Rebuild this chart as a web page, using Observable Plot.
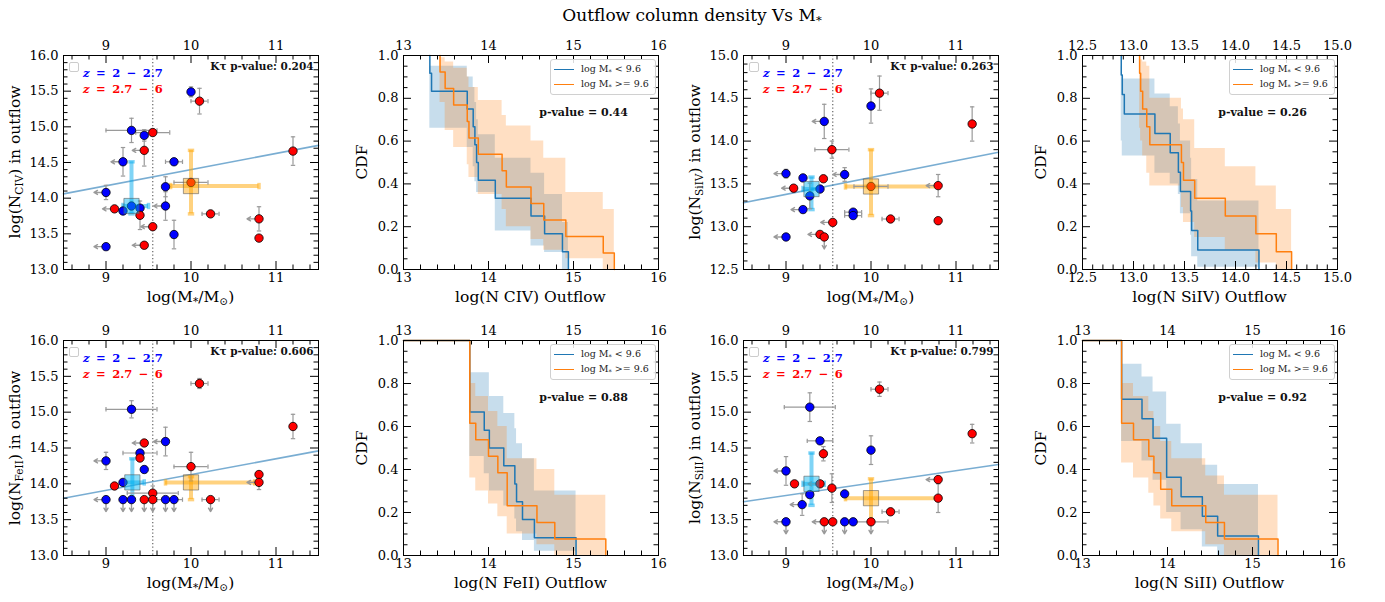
<!DOCTYPE html>
<html><head><meta charset="utf-8">
<script src="https://cdn.jsdelivr.net/npm/d3@7"></script>
<script src="https://cdn.jsdelivr.net/npm/@observablehq/plot@0.6"></script>
<style>
body{margin:0;background:#fff;font-family:"DejaVu Serif",serif;}
#fig{position:relative;width:1385px;height:602px;overflow:hidden;background:#fff;}
.abs{position:absolute;}
.lbl{position:absolute;white-space:nowrap;font-size:15.5px;color:#000;transform:translate(-50%,-50%);line-height:1;}
.rot{transform:translate(-50%,-50%) rotate(-90deg);}
sub{font-size:68%;vertical-align:-0.3em;line-height:0;}
.zbox{position:absolute;width:8px;height:8px;border:1px solid #ccc;border-radius:2px;background:#fff;}
.ztxt{position:absolute;font-size:11.5px;font-weight:bold;white-space:nowrap;transform:translateY(-50%);line-height:1;word-spacing:2.5px;}
.leg{position:absolute;border:1px solid #d0d0d0;border-radius:3px;background:rgba(255,255,255,0.85);}
.legrow{position:absolute;left:0;font-size:9.5px;white-space:nowrap;color:#222;line-height:1;}
.legline{position:absolute;height:0;width:20px;border-top:1.6px solid;}
#title{position:absolute;left:692px;top:15px;transform:translate(-50%,-50%);font-size:17px;white-space:nowrap;}
</style>
</head><body>
<div id="fig"><div id="title">Outflow column density Vs M<sub>*</sub></div></div>
<script>
// ---------- DATA ----------
// scatter rows: [logM*, logN, xerr, yerr, x-upper-limit (left arrow), y-upper-limit (down arrow)]
const civBlue = [
  [10.0,15.49,0,0.07,0,0],[9.3,14.95,0.3,0.17,0,0],[9.45,14.88,0,0.08,0,0],[9.2,14.51,0,0.2,1,0],
  [9.8,14.51,0.1,0,0,0],[9.0,14.08,0,0.1,1,0],[9.7,14.16,0,0.14,0,0],[9.7,13.89,0,0.2,1,0],
  [9.3,13.89,0,0,0,0],[9.2,13.82,0,0,0,0],[9.4,13.86,0,0,0,0],[9.8,13.49,0,0.2,0,0],[9.0,13.32,0,0,1,0]];
const civRed = [
  [10.1,15.36,0.1,0.18,0,0],[9.55,14.92,0.2,0,0,0],[9.45,14.67,0,0.22,1,0],[11.2,14.66,0,0.2,0,0],
  [10.0,14.22,0.2,0,0,0],[9.1,13.85,0,0,1,0],[9.4,13.76,0,0.2,0,0],[10.23,13.78,0.1,0,0,0],
  [9.55,13.60,0,0,1,0],[10.8,13.71,0,0.17,1,0],[10.8,13.44,0,0,0,0],[9.45,13.34,0,0,1,0]];
// medians: [x, y, xlo, xhi, ylo, yhi]
const civMedLow = [9.3,13.89,9.2,9.5,13.78,14.51];
const civMedHigh = [10.0,14.17,9.76,10.8,13.78,14.67];
const civFitX = [8.5,11.5], civFitY = [14.06,14.74];
const civKtau = "Kτ p-value: 0.204";

const siivBlue = [
  [10.0,14.41,0,0.2,0,0],[9.45,14.23,0,0.2,1,0],[9.0,13.62,0,0.05,1,0],[9.2,13.57,0,0,0,0],
  [9.69,13.61,0,0.08,1,0],[9.4,13.44,0,0,0,0],[9.28,13.36,0,0.15,0,0],[9.2,13.20,0,0,1,0],
  [9.79,13.17,0.1,0,0,0],[9.79,13.13,0.1,0,0,0],[9.0,12.88,0,0,1,0]];
const siivRed = [
  [10.1,14.56,0.1,0.2,0,0],[11.19,14.20,0,0.2,0,0],[9.54,13.90,0.2,0.1,0,0],[9.44,13.56,0,0,0,0],
  [9.09,13.45,0,0,1,0],[10.0,13.47,0.2,0,0,0],[10.79,13.48,0,0.13,1,0],[9.55,13.05,0,0,1,0],
  [10.23,13.09,0.1,0,0,0],[10.79,13.07,0,0,0,0],[9.4,12.91,0,0,1,0],[9.45,12.88,0,0,0,1]];
const siivMedLow = [9.3,13.44,9.2,9.4,13.2,13.58];
const siivMedHigh = [10.0,13.47,9.7,10.8,13.13,13.9];
const siivFitX = [8.5,11.5], siivFitY = [13.28,13.87];
const siivKtau = "Kτ p-value: 0.263";

const feiiBlue = [
  [9.3,15.04,0.3,0.12,0,0],[9.7,14.59,0,0.2,1,0],[9.0,14.32,0,0.12,1,0],[9.4,14.43,0.2,0,0,0],
  [9.45,14.20,0,0,0,0],[9.2,14.02,0,0,0,0],[9.0,13.78,0,0,1,1],[9.2,13.78,0,0,0,1],
  [9.3,13.78,0,0,0,1],[9.7,13.78,0,0,1,1],[9.8,13.78,0.1,0,0,1]];
const feiiRed = [
  [10.1,15.40,0.1,0.07,0,0],[11.2,14.80,0,0.17,0,0],[9.45,14.57,0,0,1,0],[9.4,14.36,0,0,0,0],
  [10.0,14.24,0.2,0.2,0,0],[10.8,14.13,0,0,0,0],[10.8,14.02,0,0.1,1,0],[9.1,13.97,0,0,0,0],
  [9.55,13.87,0.3,0.1,0,0],[9.45,13.78,0,0,0,1],[9.55,13.78,0,0,0,1],[10.23,13.78,0.1,0,0,1]];
const feiiMedLow = [9.31,14.02,9.2,9.45,13.78,14.35];
const feiiMedHigh = [10.0,14.02,9.7,10.75,13.78,14.1];
const feiiFitX = [8.5,11.5], feiiFitY = [13.80,14.46];
const feiiKtau = "Kτ p-value: 0.606";

const siiiBlue = [
  [9.28,15.07,0.3,0.2,0,0],[9.4,14.60,0.15,0,0,0],[10.0,14.47,0,0.2,0,0],[9.0,14.18,0,0.2,1,0],
  [9.28,13.85,0,0,0,0],[9.69,13.86,0,0,0,0],[9.19,13.71,0,0.15,1,0],[9.0,13.47,0,0,1,1],
  [9.69,13.47,0,0,0,1],[9.79,13.47,0,0,0,0]];
const siiiRed = [
  [10.1,15.32,0.1,0.1,0,0],[11.19,14.70,0,0.13,0,0],[9.44,14.42,0,0.1,0,0],[9.1,14.0,0,0,0,0],
  [9.4,14.0,0,0,1,0],[9.54,13.94,0,0.2,0,0],[10.79,14.06,0,0,1,0],[10.79,13.80,0,0.2,0,0],
  [10.23,13.61,0.1,0,0,0],[9.45,13.47,0,0,1,1],[9.55,13.47,0,0,0,0],[10.0,13.47,0.2,0,0,1]];
const siiiMedLow = [9.3,14.0,9.2,9.45,13.7,14.43];
const siiiMedHigh = [10.0,13.8,9.7,10.8,13.47,14.07];
const siiiFitX = [8.5,11.5], siiiFitY = [13.75,14.27];
const siiiKtau = "Kτ p-value: 0.799";

// CDF (survival) steps: x of each drop, value after the drop, band lo/hi for the segment that starts there
const civLowStart = 13.31;
const civLowX  = [13.31,13.33,13.75,13.82,13.84,13.86,13.88,14.08,14.50,14.66,14.87,14.94];
const civLowS  = [0.917,0.833,0.75,0.667,0.583,0.5,0.417,0.333,0.25,0.167,0.083,0.0];
const civLowLo = [0.66,0.66,0.57,0.48,0.41,0.36,0.36,0.18,0.11,0.08,0.0];
const civLowHi = [0.95,0.95,0.90,0.85,0.78,0.70,0.63,0.52,0.45,0.35,0.22];
const civHighStart = 13.43;
const civHighX  = [13.43,13.49,13.59,13.75,13.77,13.88,14.16,14.21,14.50,14.65,14.91,15.35,15.48];
const civHighS  = [0.923,0.846,0.769,0.692,0.615,0.538,0.462,0.385,0.308,0.231,0.154,0.077,0.0];
const civHighLo = [0.78,0.65,0.57,0.49,0.43,0.35,0.28,0.20,0.14,0.09,0.05,0.0];
const civHighHi = [0.99,0.97,0.94,0.90,0.85,0.79,0.72,0.67,0.60,0.52,0.36,0.28];
const civP = "p-value = 0.44";

const siivLowStart = 12.88;
const siivLowX  = [12.88,12.89,12.91,13.21,13.36,13.44,13.46,13.56,13.57,13.63,14.23];
const siivLowS  = [0.909,0.818,0.727,0.636,0.545,0.455,0.364,0.273,0.182,0.091,0.0];
const siivLowLo = [0.60,0.53,0.53,0.45,0.40,0.35,0.26,0.16,0.06,0.01];
const siivLowHi = [0.95,0.89,0.89,0.82,0.76,0.68,0.60,0.52,0.42,0.32];
const siivHighStart = 13.06;
const siivHighX  = [13.06,13.07,13.09,13.13,13.16,13.47,13.49,13.60,13.90,14.20,14.40,14.55];
const siivHighS  = [0.917,0.833,0.75,0.667,0.583,0.5,0.417,0.333,0.25,0.167,0.083,0.0];
const siivHighLo = [0.66,0.60,0.53,0.45,0.39,0.29,0.22,0.15,0.09,0.03,0.0];
const siivHighHi = [0.98,0.98,0.97,0.95,0.80,0.75,0.70,0.565,0.48,0.39,0.28];
const siivP = "p-value = 0.26";

const feiiLowStart = 13.0;
const feiiLowX  = [13.78,13.95,14.01,14.18,14.31,14.33,14.40,14.54,15.03];
const feiiLowS  = [0.667,0.583,0.5,0.417,0.333,0.25,0.167,0.083,0.0];
const feiiLowLo = [0.46,0.38,0.30,0.23,0.17,0.11,0.07,0.02];
const feiiLowHi = [0.85,0.85,0.74,0.66,0.59,0.52,0.45,0.30];
const feiiHighStart = 13.0;
const feiiHighX  = [13.78,13.85,14.00,14.11,14.22,14.57,14.78,15.38];
const feiiHighS  = [0.615,0.538,0.462,0.385,0.231,0.154,0.077,0.0];
const feiiHighLo = [0.36,0.30,0.24,0.18,0.10,0.05,0.0];
const feiiHighHi = [0.80,0.74,0.67,0.60,0.45,0.40,0.28];
const feiiP = "p-value = 0.88";

const siiiLowStart = 13.0;
const siiiLowX  = [13.46,13.70,13.83,13.99,14.16,14.41,14.59,15.07];
const siiiLowS  = [0.727,0.636,0.545,0.364,0.273,0.182,0.091,0.0];
const siiiLowLo = [0.53,0.44,0.35,0.20,0.12,0.04,0.0];
const siiiLowHi = [0.89,0.83,0.76,0.61,0.52,0.42,0.33];
const siiiHighStart = 13.0;
const siiiHighX  = [13.46,13.60,13.78,13.84,13.92,14.05,14.45,14.67,15.30];
const siiiHighS  = [0.615,0.538,0.462,0.385,0.308,0.231,0.154,0.077,0.0];
const siiiHighLo = [0.43,0.36,0.29,0.23,0.17,0.11,0.05,0.0];
const siiiHighHi = [0.80,0.74,0.67,0.60,0.53,0.45,0.37,0.28];
const siiiP = "p-value = 0.92";

// ---------- LAYOUT ----------
const fig = document.getElementById("fig");
const ML = 48, MR = 12, MT = 24, MB = 22, W = 255;
const FONT = "'DejaVu Serif', serif";
const BLUE = "#1f77b4", ORANGE = "#ff7f0e", GREY = "#9a9a9a";

function frac(a, b, div, step) { return d3.range(a, b + 1).filter(v => v % step !== 0).map(v => v / div); }
function maj(a, b, div) { return d3.range(a, b + 1).map(v => v / div); }

function tickMarks(xMaj, xMin, yMaj, yMin, H) {
  const L = 8, l = 4.5, s = {stroke: "black", strokeWidth: 1};
  return [
    Plot.tickX(xMaj, {x: d => d, insetTop: H - L, ...s}),
    Plot.tickX(xMaj, {x: d => d, insetBottom: H - L, ...s}),
    Plot.tickX(xMin, {x: d => d, insetTop: H - l, ...s}),
    Plot.tickX(xMin, {x: d => d, insetBottom: H - l, ...s}),
    Plot.tickY(yMaj, {y: d => d, insetRight: W - L, ...s}),
    Plot.tickY(yMaj, {y: d => d, insetLeft: W - L, ...s}),
    Plot.tickY(yMin, {y: d => d, insetRight: W - l, ...s}),
    Plot.tickY(yMin, {y: d => d, insetLeft: W - l, ...s})
  ];
}
function axes(xMaj, yMaj, fx, fy) {
  return [
    Plot.axisX({ticks: xMaj, anchor: "bottom", tickSize: 0, tickPadding: 3, tickFormat: fx, label: null, fontSize: 13}),
    Plot.axisX({ticks: xMaj, anchor: "top", tickSize: 0, tickPadding: 6, tickFormat: fx, label: null, fontSize: 13}),
    Plot.axisY({ticks: yMaj, anchor: "left", tickSize: 0, tickPadding: 5, tickFormat: fy, label: null, fontSize: 13})
  ];
}
function place(svg, left, top, H) {
  const d = document.createElement("div");
  d.className = "abs";
  d.style.left = (left - ML) + "px"; d.style.top = (top - MT) + "px";
  d.style.width = (W + ML + MR) + "px"; d.style.height = (H + MT + MB) + "px";
  d.appendChild(svg); fig.appendChild(d);
}
function addLabel(html, cx, cy, rot) {
  const d = document.createElement("div");
  d.className = "lbl" + (rot ? " rot" : "");
  d.style.left = cx + "px"; d.style.top = cy + "px"; d.innerHTML = html;
  fig.appendChild(d);
}
const capH = {draw(ctx, size) { const r = Math.sqrt(size / Math.PI); ctx.moveTo(-r, 0); ctx.lineTo(r, 0); }};
const capV = {draw(ctx, size) { const r = Math.sqrt(size / Math.PI); ctx.moveTo(0, -r); ctx.lineTo(0, r); }};

function rows(arr, c) { return arr.map(p => ({x: p[0], y: p[1], xe: p[2], ye: p[3], xl: p[4], yl: p[5], c})); }

function medianMarks(m, color) {
  const o = {stroke: color, strokeOpacity: 0.5, strokeWidth: 4};
  const d = [{x: m[0], y: m[1], x1: m[2], x2: m[3], y1: m[4], y2: m[5]}];
  return [
    Plot.ruleY(d, {y: "y", x1: "x1", x2: "x2", ...o}),
    Plot.ruleX(d, {x: "x", y1: "y1", y2: "y2", ...o}),
    Plot.dot([{x: m[0], y: m[4]}, {x: m[0], y: m[5]}], {x: "x", y: "y", symbol: capH, r: 3.2, fill: "none", ...o, strokeWidth: 3.5}),
    Plot.dot([{x: m[2], y: m[1]}, {x: m[3], y: m[1]}], {x: "x", y: "y", symbol: capV, r: 3.2, fill: "none", ...o, strokeWidth: 3.5}),
  ];
}
function medianSquare(m, color) {
  return Plot.dot([{x: m[0], y: m[1]}], {x: "x", y: "y", symbol: "square", r: 8.6, fill: color, fillOpacity: 0.45, stroke: "#555", strokeOpacity: 0.55, strokeWidth: 1});
}

function scatterPanel(cfg) {
  const {blue, red, medLow, medHigh, fitX, fitY, yDom, yMaj, yMin, ktau, left, top, H, ylab} = cfg;
  const pts = [...rows(blue, "blue"), ...rows(red, "red")];
  const pxPerY = H / (yDom[1] - yDom[0]);
  const yArrow = 12 / pxPerY, xArrow = 12 / 85;
  const xE = pts.filter(p => p.xe > 0), yE = pts.filter(p => p.ye > 0);
  const xL = pts.filter(p => p.xl), yL = pts.filter(p => p.yl);
  const g = {stroke: GREY, strokeWidth: 1.2};
  const xMaj = [9, 10, 11], xMin = frac(43, 57, 5, 5);
  const svg = Plot.plot({
    width: W + ML + MR, height: H + MT + MB,
    marginLeft: ML, marginRight: MR, marginTop: MT, marginBottom: MB,
    x: {domain: [8.5, 11.5]}, y: {domain: yDom},
    style: {fontFamily: FONT, fontSize: "13px", color: "black", background: "transparent", overflow: "visible"},
    marks: [
      Plot.ruleX([9.55], {stroke: "#666", strokeDasharray: "1.3,2.2", strokeWidth: 1.2}),
      Plot.line(fitX.map((x, i) => ({x, y: fitY[i]})), {x: "x", y: "y", stroke: BLUE, strokeOpacity: 0.6, strokeWidth: 1.6}),
      ...medianMarks(medLow, "#00aaee"),
      ...medianMarks(medHigh, "#ffa500"),
      Plot.ruleY(xE, {y: "y", x1: d => d.x - d.xe, x2: d => d.x + d.xe, ...g}),
      Plot.ruleX(yE, {x: "x", y1: d => d.y - d.ye, y2: d => d.y + d.ye, ...g}),
      Plot.dot(xE.flatMap(d => [{x: d.x - d.xe, y: d.y}, {x: d.x + d.xe, y: d.y}]), {x: "x", y: "y", symbol: capV, r: 2.2, fill: "none", ...g}),
      Plot.dot(yE.flatMap(d => [{x: d.x, y: d.y - d.ye}, {x: d.x, y: d.y + d.ye}]), {x: "x", y: "y", symbol: capH, r: 2.2, fill: "none", ...g}),
      Plot.arrow(xL, {x1: "x", y1: "y", x2: d => d.x - xArrow, y2: "y", headLength: 5, ...g, strokeWidth: 1.4}),
      Plot.arrow(yL, {x1: "x", y1: "y", x2: "x", y2: d => d.y - yArrow, headLength: 5, ...g, strokeWidth: 1.4}),
      Plot.dot(pts.filter(p => p.c === "blue"), {x: "x", y: "y", r: 4.2, fill: "#0000ff", stroke: "black", strokeWidth: 0.8}),
      Plot.dot(pts.filter(p => p.c === "red"), {x: "x", y: "y", r: 4.2, fill: "#ff0000", stroke: "black", strokeWidth: 0.8}),
      medianSquare(medLow, "#00b4f0"),
      medianSquare(medHigh, "#ffa500"),
      Plot.text([ktau], {text: d => d, frameAnchor: "top-right", dx: -5, dy: 7, textAnchor: "end", lineAnchor: "top", fontWeight: "bold", fontSize: 10.5, fill: "#111"}),
      ...tickMarks(xMaj, xMin, yMaj, yMin, H),
      Plot.frame({stroke: "black", strokeWidth: 1}),
      ...axes(xMaj, yMaj, d => String(d), d3.format(".1f"))
    ]
  });
  place(svg, left, top, H);
  addLabel(ylab, left - 47, top + H / 2, true);
  addLabel("log(M<sub>*</sub>/M<sub>⊙</sub>)", left + W / 2, top + H + 29, false);
  // z legend
  const b = document.createElement("div"); b.className = "zbox";
  b.style.left = (left + 6) + "px"; b.style.top = (top + 6.5) + "px"; fig.appendChild(b);
  [["#0000ff", "<i>z</i> = 2 − 2.7", 18.5], ["#ff0000", "<i>z</i> = 2.7 − 6", 35]].forEach(([c, t, dy]) => {
    const e = document.createElement("div"); e.className = "ztxt";
    e.style.left = (left + 20) + "px"; e.style.top = (top + dy) + "px"; e.style.color = c; e.innerHTML = t;
    fig.appendChild(e);
  });
}

function stepLine(start, xs, ys) {
  return [{x: start, y: 1.0}, ...xs.map((x, i) => ({x, y: ys[i]}))];
}
function stepBand(xs, lo, hi) {
  const n = lo.length;
  const out = lo.map((l, i) => ({x: xs[i], lo: l, hi: hi[i]}));
  out.push({x: xs[n], lo: lo[n - 1], hi: hi[n - 1]});
  return out;
}

function cdfPanel(cfg) {
  const {low, high, xDom, xMaj, xMin, fx, p, left, top, H, xlab} = cfg;
  const yMaj = maj(0, 5, 5), yMin = frac(1, 19, 20, 4);
  const svg = Plot.plot({
    width: W + ML + MR, height: H + MT + MB,
    marginLeft: ML, marginRight: MR, marginTop: MT, marginBottom: MB,
    x: {domain: xDom}, y: {domain: [0, 1]},
    style: {fontFamily: FONT, fontSize: "13px", color: "black", background: "transparent", overflow: "visible"},
    marks: [
      Plot.areaY(stepBand(low.x, low.lo, low.hi), {x: "x", y1: "lo", y2: "hi", curve: "step-after", fill: BLUE, fillOpacity: 0.25}),
      Plot.areaY(stepBand(high.x, high.lo, high.hi), {x: "x", y1: "lo", y2: "hi", curve: "step-after", fill: ORANGE, fillOpacity: 0.25}),
      Plot.line(stepLine(low.start, low.x, low.s), {x: "x", y: "y", curve: "step-after", stroke: BLUE, strokeWidth: 1.5}),
      Plot.line(stepLine(high.start, high.x, high.s), {x: "x", y: "y", curve: "step-after", stroke: ORANGE, strokeWidth: 1.5}),
      Plot.text([p], {text: d => d, frameAnchor: "top-left", dx: 180, dy: 57, textAnchor: "middle", lineAnchor: "middle", fontWeight: "bold", fontSize: 11, fill: "#111"}),
      ...tickMarks(xMaj, xMin, yMaj, yMin, H),
      Plot.frame({stroke: "black", strokeWidth: 1}),
      ...axes(xMaj, yMaj, fx, d3.format(".1f"))
    ]
  });
  place(svg, left, top, H);
  addLabel("CDF", left - 40, top + H / 2, true);
  addLabel(xlab, left + W / 2, top + H + 29, false);
  // legend box
  const lg = document.createElement("div"); lg.className = "leg";
  lg.style.left = (left + 147) + "px"; lg.style.top = (top + 4) + "px";
  lg.style.width = "104px"; lg.style.height = "34px"; fig.appendChild(lg);
  [[BLUE, "log M<sub>*</sub> &lt; 9.6", 8.7], [ORANGE, "log M<sub>*</sub> &gt;= 9.6", 24]].forEach(([c, t, dy]) => {
    const ln = document.createElement("div"); ln.className = "legline";
    ln.style.left = "3px"; ln.style.top = dy + "px"; ln.style.borderTopColor = c; lg.appendChild(ln);
    const tx = document.createElement("div"); tx.className = "legrow";
    tx.style.left = "30px"; tx.style.top = (dy - 5) + "px"; tx.innerHTML = t; lg.appendChild(tx);
  });
}

const colX = [63, 403, 743, 1082];
const rowY = [55, 340], rowH = [214, 215];
const yMaj1316 = maj(26, 32, 2), yMin1316 = frac(131, 159, 10, 5);
const yMaj12515 = maj(25, 30, 2), yMin12515 = frac(126, 149, 10, 5);
const cdfXMaj = [13, 14, 15, 16], cdfXMin = frac(66, 79, 5, 5);
const cdfXMaj4 = maj(25, 30, 2), cdfXMin4 = frac(126, 149, 10, 5);

scatterPanel({blue: civBlue, red: civRed, medLow: civMedLow, medHigh: civMedHigh, fitX: civFitX, fitY: civFitY,
  yDom: [13, 16], yMaj: yMaj1316, yMin: yMin1316, ktau: civKtau, left: colX[0], top: rowY[0], H: rowH[0],
  ylab: "log(N<sub>CIV</sub>) in outflow"});
cdfPanel({low: {start: civLowStart, x: civLowX, s: civLowS, lo: civLowLo, hi: civLowHi},
  high: {start: civHighStart, x: civHighX, s: civHighS, lo: civHighLo, hi: civHighHi},
  xDom: [13, 16], xMaj: cdfXMaj, xMin: cdfXMin, fx: d => String(d), p: civP, left: colX[1], top: rowY[0], H: rowH[0],
  xlab: "log(N CIV) Outflow"});
scatterPanel({blue: siivBlue, red: siivRed, medLow: siivMedLow, medHigh: siivMedHigh, fitX: siivFitX, fitY: siivFitY,
  yDom: [12.5, 15], yMaj: yMaj12515, yMin: yMin12515, ktau: siivKtau, left: colX[2], top: rowY[0], H: rowH[0],
  ylab: "log(N<sub>SiIV</sub>) in outflow"});
cdfPanel({low: {start: siivLowStart, x: siivLowX, s: siivLowS, lo: siivLowLo, hi: siivLowHi},
  high: {start: siivHighStart, x: siivHighX, s: siivHighS, lo: siivHighLo, hi: siivHighHi},
  xDom: [12.5, 15], xMaj: cdfXMaj4, xMin: cdfXMin4, fx: d3.format(".1f"), p: siivP, left: colX[3], top: rowY[0], H: rowH[0],
  xlab: "log(N SiIV) Outflow"});
scatterPanel({blue: feiiBlue, red: feiiRed, medLow: feiiMedLow, medHigh: feiiMedHigh, fitX: feiiFitX, fitY: feiiFitY,
  yDom: [13, 16], yMaj: yMaj1316, yMin: yMin1316, ktau: feiiKtau, left: colX[0], top: rowY[1], H: rowH[1],
  ylab: "log(N<sub>FeII</sub>) in outflow"});
cdfPanel({low: {start: feiiLowStart, x: feiiLowX, s: feiiLowS, lo: feiiLowLo, hi: feiiLowHi},
  high: {start: feiiHighStart, x: feiiHighX, s: feiiHighS, lo: feiiHighLo, hi: feiiHighHi},
  xDom: [13, 16], xMaj: cdfXMaj, xMin: cdfXMin, fx: d => String(d), p: feiiP, left: colX[1], top: rowY[1], H: rowH[1],
  xlab: "log(N FeII) Outflow"});
scatterPanel({blue: siiiBlue, red: siiiRed, medLow: siiiMedLow, medHigh: siiiMedHigh, fitX: siiiFitX, fitY: siiiFitY,
  yDom: [13, 16], yMaj: yMaj1316, yMin: yMin1316, ktau: siiiKtau, left: colX[2], top: rowY[1], H: rowH[1],
  ylab: "log(N<sub>SiII</sub>) in outflow"});
cdfPanel({low: {start: siiiLowStart, x: siiiLowX, s: siiiLowS, lo: siiiLowLo, hi: siiiLowHi},
  high: {start: siiiHighStart, x: siiiHighX, s: siiiHighS, lo: siiiHighLo, hi: siiiHighHi},
  xDom: [13, 16], xMaj: cdfXMaj, xMin: cdfXMin, fx: d => String(d), p: siiiP, left: colX[3], top: rowY[1], H: rowH[1],
  xlab: "log(N SiII) Outflow"});
</script>
</body></html>
